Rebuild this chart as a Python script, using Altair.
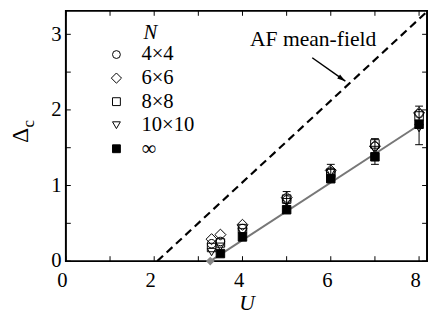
import altair as alt
import pandas as pd

# ---- data ----
series_names = ["4×4", "6×6", "8×8", "10×10", "∞"]
U_finite = [3.3, 3.5, 4.0, 5.0, 6.0, 7.0, 8.0]
gap_4 = [0.23, 0.26, 0.43, 0.81, 1.18, 1.52, 1.95]
gap_6 = [0.29, 0.35, 0.48, 0.84, 1.20, 1.52, 1.96]
gap_8 = [0.18, 0.24, 0.43, 0.82, 1.16, 1.55, 1.92]
gap_10 = [0.12, 0.19, 0.38, 0.78, 1.17, 1.47, 1.76]
U_inf = [3.5, 4.0, 5.0, 6.0, 7.0, 8.0]
gap_inf = [0.10, 0.32, 0.68, 1.09, 1.38, 1.81]

U_err = [5.0, 6.0, 7.0, 8.0]
err_lo = [0.65, 1.06, 1.28, 1.54]
err_hi = [0.92, 1.28, 1.62, 2.05]

U_c = [3.27]
gap_c = [0.0]

fit_U = [3.27, 8.0]
fit_gap = [0.0, 1.80]

mf_U = [2.07, 8.18]
mf_gap = [0.0, 3.30]

note_text = ["AF mean-field"]
note_U = [5.6]
note_gap = [2.84]
arrow_U = [5.58]
arrow_gap = [2.69]
arrow_U2 = [6.33]
arrow_gap2 = [2.38]

x_tick_vals = [0, 1, 2, 3, 4, 5, 6, 7, 8]
y_tick_vals = [0, 0.5, 1, 1.5, 2, 2.5, 3]
x_label_vals = [0, 2, 4, 6, 8]
y_label_vals = [0, 1, 2, 3]

# ---- tables ----
rows = []
for name, vals in zip(series_names[:4], [gap_4, gap_6, gap_8, gap_10]):
    for u, v in zip(U_finite, vals):
        rows.append({"U": u, "D": v, "N": name})
for u, v in zip(U_inf, gap_inf):
    rows.append({"U": u, "D": v, "N": series_names[4]})
pts = pd.DataFrame(rows)

err = pd.DataFrame({"U": U_err, "D": err_lo, "D2": err_hi})
cap = pd.DataFrame({"U": U_err + U_err, "D": err_lo + err_hi})
uc = pd.DataFrame({"U": U_c, "D": gap_c})
fit = pd.DataFrame({"U": fit_U, "D": fit_gap})
mf = pd.DataFrame({"U": mf_U, "D": mf_gap})
note = pd.DataFrame({"U": note_U, "D": note_gap, "t": note_text})
arrow = pd.DataFrame({"U": arrow_U, "D": arrow_gap, "U2": arrow_U2, "D2": arrow_gap2})
head = pd.DataFrame({"U": arrow_U2, "D": arrow_gap2})
xt = pd.DataFrame({"U": x_tick_vals})
yt = pd.DataFrame({"D": y_tick_vals})

W, H = 368, 255
SERIF = "'Liberation Serif', 'Times New Roman', 'DejaVu Serif', serif"

xs = alt.Scale(domain=[0, 8.18], nice=False, zero=False)
ys = alt.Scale(domain=[0, 3.31], nice=False, zero=False)

xaxis = alt.Axis(values=x_label_vals, format="d", title="U", titleFont=SERIF,
                 titleFontStyle="italic", titleFontWeight="normal", titleFontSize=22,
                 titleColor="black", titlePadding=2, labelFont=SERIF, labelFontSize=21,
                 labelColor="black", labelPadding=9, labelOffset=-4, labelFlush=False,
                 ticks=False, tickSize=0, domain=False, grid=False)
yaxis = alt.Axis(values=y_label_vals, format="d", title="", labelFont=SERIF,
                 labelFontSize=21, labelColor="black", labelPadding=5, labelFlush=False,
                 ticks=False, tickSize=0, domain=False, grid=False)


def X(f="U"):
    return alt.X(f"{f}:Q", scale=xs, axis=xaxis, title="U")


def Y(f="D"):
    return alt.Y(f"{f}:Q", scale=ys, axis=yaxis, title="")


leg = alt.Legend(title="N", orient="none", legendX=41, legendY=12, padding=0,
                 titleFont=SERIF, titleFontStyle="italic", titleFontWeight="normal",
                 titleFontSize=21, titleColor="black", titleAnchor="middle", titlePadding=1,
                 labelFont=SERIF, labelFontSize=21, labelColor="black", labelOffset=15,
                 symbolSize=64, symbolStrokeWidth=1, rowPadding=2)

DIAMOND = "M0,-1.3L1.3,0L0,1.3L-1.3,0Z"
shape_scale = alt.Scale(domain=series_names,
                        range=["circle", DIAMOND, "square", "triangle-down", "square"])
fill_scale = alt.Scale(domain=series_names,
                       range=["transparent", "transparent", "transparent", "transparent", "black"])
stroke_scale = alt.Scale(domain=series_names, range=["black"] * 5)

mf_line = alt.Chart(mf).mark_line(color="black", strokeWidth=2.2, strokeDash=[8, 5], clip=True).encode(
    x=X(), y=Y())
fit_line = alt.Chart(fit).mark_line(color="#777777", strokeWidth=2).encode(x=X(), y=Y())

err_rule = alt.Chart(err).mark_rule(color="black", strokeWidth=1).encode(
    x=X(), y=Y(), y2=alt.Y2("D2:Q"))
err_cap = alt.Chart(cap).mark_point(shape="stroke", size=64, stroke="black", strokeWidth=1,
                                    opacity=1).encode(x=X(), y=Y())

pts_layer = alt.Chart(pts).mark_point(filled=True, strokeWidth=1, opacity=1, size=75).encode(
    x=X(), y=Y(),
    shape=alt.Shape("N:N", scale=shape_scale, legend=leg),
    fill=alt.Fill("N:N", scale=fill_scale, legend=leg),
    stroke=alt.Stroke("N:N", scale=stroke_scale, legend=leg),
    order=alt.Order("N:N"),
)
uc_layer = alt.Chart(uc).mark_point(shape="diamond", filled=True, color="#888888", size=80,
                                    opacity=1).encode(x=X(), y=Y())

note_layer = alt.Chart(note).mark_text(font=SERIF, fontSize=22, align="center",
                                       baseline="alphabetic", color="black").encode(
    x=X(), y=Y(), text="t:N")
arrow_layer = alt.Chart(arrow).mark_rule(color="black", strokeWidth=1.5).encode(
    x=X(), y=Y(), x2=alt.X2("U2:Q"), y2=alt.Y2("D2:Q"))
head_layer = alt.Chart(head).mark_point(shape="M0,0L-2,-0.6L-2,0.6Z", angle=35, size=70,
                                        filled=True, color="black", opacity=1).encode(
    x=X(), y=Y())

xt_bottom = alt.Chart(xt).mark_rule(color="black", strokeWidth=1).encode(
    x=X(), y=alt.value(H), y2=alt.value(H - 5))
xt_top = alt.Chart(xt).mark_rule(color="black", strokeWidth=1).encode(
    x=X(), y=alt.value(0), y2=alt.value(5))
yt_left = alt.Chart(yt).mark_rule(color="black", strokeWidth=1).encode(
    y=Y(), x=alt.value(0), x2=alt.value(5))
yt_right = alt.Chart(yt).mark_rule(color="black", strokeWidth=1).encode(
    y=Y(), x=alt.value(W), x2=alt.value(W - 5))

ytitle_main = alt.Chart(pd.DataFrame({"t": ["Δ"]})).mark_text(
    font=SERIF, fontSize=24, angle=270, align="center", baseline="middle", color="black").encode(
    x=alt.value(-46), y=alt.value(127), text="t:N")
ytitle_sub = alt.Chart(pd.DataFrame({"t": ["c"]})).mark_text(
    font=SERIF, fontSize=17, angle=270, align="center", baseline="middle", color="black").encode(
    x=alt.value(-38), y=alt.value(115), text="t:N")

chart = alt.layer(
    xt_bottom, xt_top, yt_left, yt_right,
    mf_line, fit_line, err_rule, err_cap, pts_layer, uc_layer,
    arrow_layer, head_layer, note_layer, ytitle_main, ytitle_sub,
).properties(
    width=W, height=H,
    autosize=alt.AutoSizeParams(type="none"),
    padding={"left": 59, "top": 0, "right": 1, "bottom": 53},
    background="white",
).configure_view(stroke="black", strokeWidth=2)

chart.save("out.html", embed_options={"renderer": "svg", "actions": False})
